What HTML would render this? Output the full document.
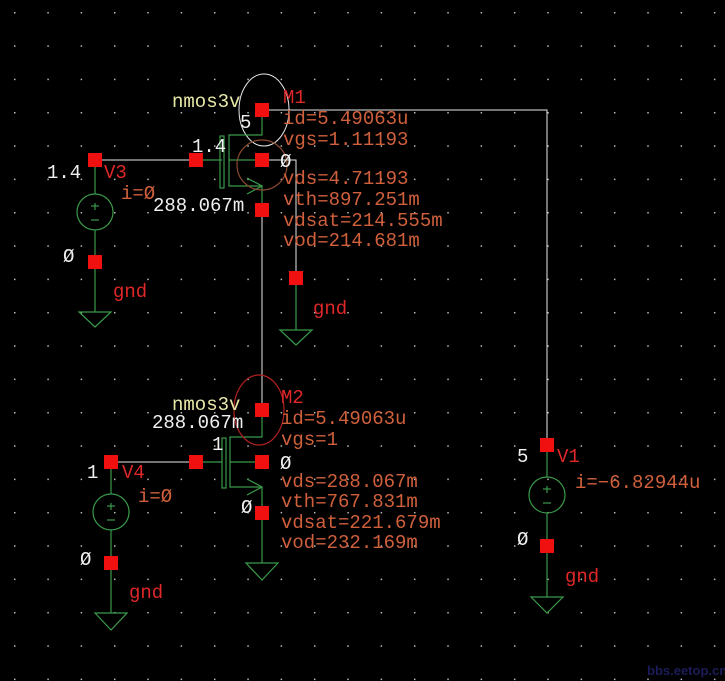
<!DOCTYPE html>
<html><head><meta charset="utf-8"><style>
html,body{margin:0;padding:0;background:#000;}
svg{display:block}
text{font-family:"Liberation Mono",monospace;font-size:19px;}
.o{fill:#d0603c}.r{fill:#e02828}.w{fill:#f0f0f0}.y{fill:#e8e8a8}
</style></head><body>
<svg width="725" height="681" viewBox="0 0 725 681" xmlns="http://www.w3.org/2000/svg">
<defs><pattern id="g" x="14" y="12" width="33.33" height="33.33" patternUnits="userSpaceOnUse"><rect x="0" y="0" width="1.5" height="1.5" fill="#bbb"/></pattern></defs>
<rect width="725" height="681" fill="#000"/>
<rect width="725" height="681" fill="url(#g)"/>
<g fill="none" stroke="#e8e8e8" stroke-width="1">
<polyline points="262,110 547,110 547,445"/>
<polyline points="262,160 296,160 296,278"/>
<line x1="262" y1="210" x2="262" y2="410"/>
<line x1="95" y1="160" x2="196" y2="160"/>
<line x1="111" y1="462" x2="196" y2="462"/>
<ellipse cx="264" cy="110" rx="25" ry="36"/>
</g>
<g fill="none" stroke="#3a9a4a" stroke-width="1.2">
<line x1="196" y1="160" x2="222" y2="160"/>
<rect x="220" y="136" width="4" height="52"/>
<polyline points="262,110 262,135 229,135 229,186 262,186"/>
<line x1="229" y1="160" x2="262" y2="160"/>
<polyline points="247,178 262,186 247,194"/>
<line x1="262" y1="186" x2="262" y2="210"/>
<line x1="296" y1="278" x2="296" y2="330"/>
<polygon points="280,330 312,330 296,345"/>
<line x1="95" y1="160" x2="95" y2="194"/>
<circle cx="95" cy="212" r="18"/>
<line x1="95" y1="230" x2="95" y2="312"/>
<polygon points="79,312 111,312 95,327"/>
<line x1="95" y1="203" x2="95" y2="210"/><line x1="91" y1="206" x2="99" y2="206"/><line x1="91" y1="220" x2="99" y2="220"/>
<line x1="196" y1="462" x2="222" y2="462"/>
<rect x="222" y="438" width="4" height="50"/>
<polyline points="262,410 262,437 230,437 230,487 262,487"/>
<line x1="230" y1="462" x2="262" y2="462"/>
<polyline points="247,479 262,487 247,495"/>
<line x1="262" y1="487" x2="262" y2="563"/>
<polygon points="246,563 278,563 262,580"/>
<line x1="111" y1="462" x2="111" y2="494"/>
<circle cx="111" cy="512" r="18"/>
<line x1="111" y1="530" x2="111" y2="613"/>
<polygon points="95,613 127,613 111,630"/>
<line x1="111" y1="503" x2="111" y2="510"/><line x1="107" y1="506" x2="115" y2="506"/><line x1="107" y1="520" x2="115" y2="520"/>
<line x1="547" y1="445" x2="547" y2="477"/>
<circle cx="547" cy="495" r="18"/>
<line x1="547" y1="513" x2="547" y2="597"/>
<polygon points="531,597 563,597 547,613"/>
<line x1="547" y1="486" x2="547" y2="493"/><line x1="543" y1="489" x2="551" y2="489"/><line x1="543" y1="503" x2="551" y2="503"/>
</g>
<circle cx="262" cy="165" r="25" fill="none" stroke="#8a4a30" stroke-width="1.2"/>
<ellipse cx="259" cy="410" rx="25" ry="35" fill="none" stroke="#b02020" stroke-width="1.2"/>
<g fill="#f01010">
<rect x="255" y="103" width="14" height="14"/><rect x="189" y="153" width="14" height="14"/><rect x="255" y="153" width="14" height="14"/><rect x="255" y="203" width="14" height="14"/>
<rect x="289" y="271" width="14" height="14"/>
<rect x="88" y="153" width="14" height="14"/><rect x="88" y="255" width="14" height="14"/>
<rect x="255" y="403" width="14" height="14"/><rect x="189" y="455" width="14" height="14"/><rect x="255" y="455" width="14" height="14"/><rect x="255" y="506" width="14" height="14"/>
<rect x="104" y="455" width="14" height="14"/><rect x="104" y="556" width="14" height="14"/>
<rect x="540" y="438" width="14" height="14"/><rect x="540" y="539" width="14" height="14"/>
</g>
<text class="y" x="172" y="107">nmos3v</text>
<text class="w" x="240" y="128">5</text>
<text class="r" x="283" y="103">M1</text>
<text class="o" x="283" y="124">id=5.49063u</text>
<text class="o" x="283" y="145">vgs=1.11193</text>
<text class="w" x="192" y="152">1.4</text>
<text class="w" x="280" y="167">Ø</text>
<text class="o" x="283" y="184">vds=4.71193</text>
<text class="o" x="283" y="205">vth=897.251m</text>
<text class="o" x="283" y="226">vdsat=214.555m</text>
<text class="o" x="283" y="246">vod=214.681m</text>
<text class="w" x="153" y="211">288.067m</text>
<text class="w" x="47" y="178">1.4</text>
<text class="r" x="104" y="178">V3</text>
<text class="o" x="121" y="199">i=Ø</text>
<text class="w" x="63" y="262">Ø</text>
<text class="r" x="113" y="297">gnd</text>
<text class="r" x="313" y="314">gnd</text>
<text class="y" x="172" y="410">nmos3v</text>
<text class="w" x="152" y="428">288.067m</text>
<text class="r" x="281" y="403">M2</text>
<text class="o" x="281" y="424">id=5.49063u</text>
<text class="o" x="281" y="445">vgs=1</text>
<text class="w" x="212" y="450">1</text>
<text class="w" x="280" y="469">Ø</text>
<text class="o" x="281" y="487">vds=288.067m</text>
<text class="o" x="281" y="507">vth=767.831m</text>
<text class="o" x="281" y="528">vdsat=221.679m</text>
<text class="o" x="281" y="548">vod=232.169m</text>
<text class="w" x="241" y="513">Ø</text>
<text class="w" x="87" y="478">1</text>
<text class="r" x="122" y="478">V4</text>
<text class="o" x="138" y="502">i=Ø</text>
<text class="w" x="80" y="565">Ø</text>
<text class="r" x="129" y="598">gnd</text>
<text class="w" x="517" y="462">5</text>
<text class="r" x="557" y="462">V1</text>
<text class="o" x="575" y="488">i=−6.82944u</text>
<text class="w" x="517" y="545">Ø</text>
<text class="r" x="565" y="582">gnd</text>
<text x="647" y="675" style="font-family:'Liberation Sans',sans-serif;font-size:13px;font-weight:bold;fill:#1c1c5a">bbs.eetop.cn</text>
</svg>
</body></html>
